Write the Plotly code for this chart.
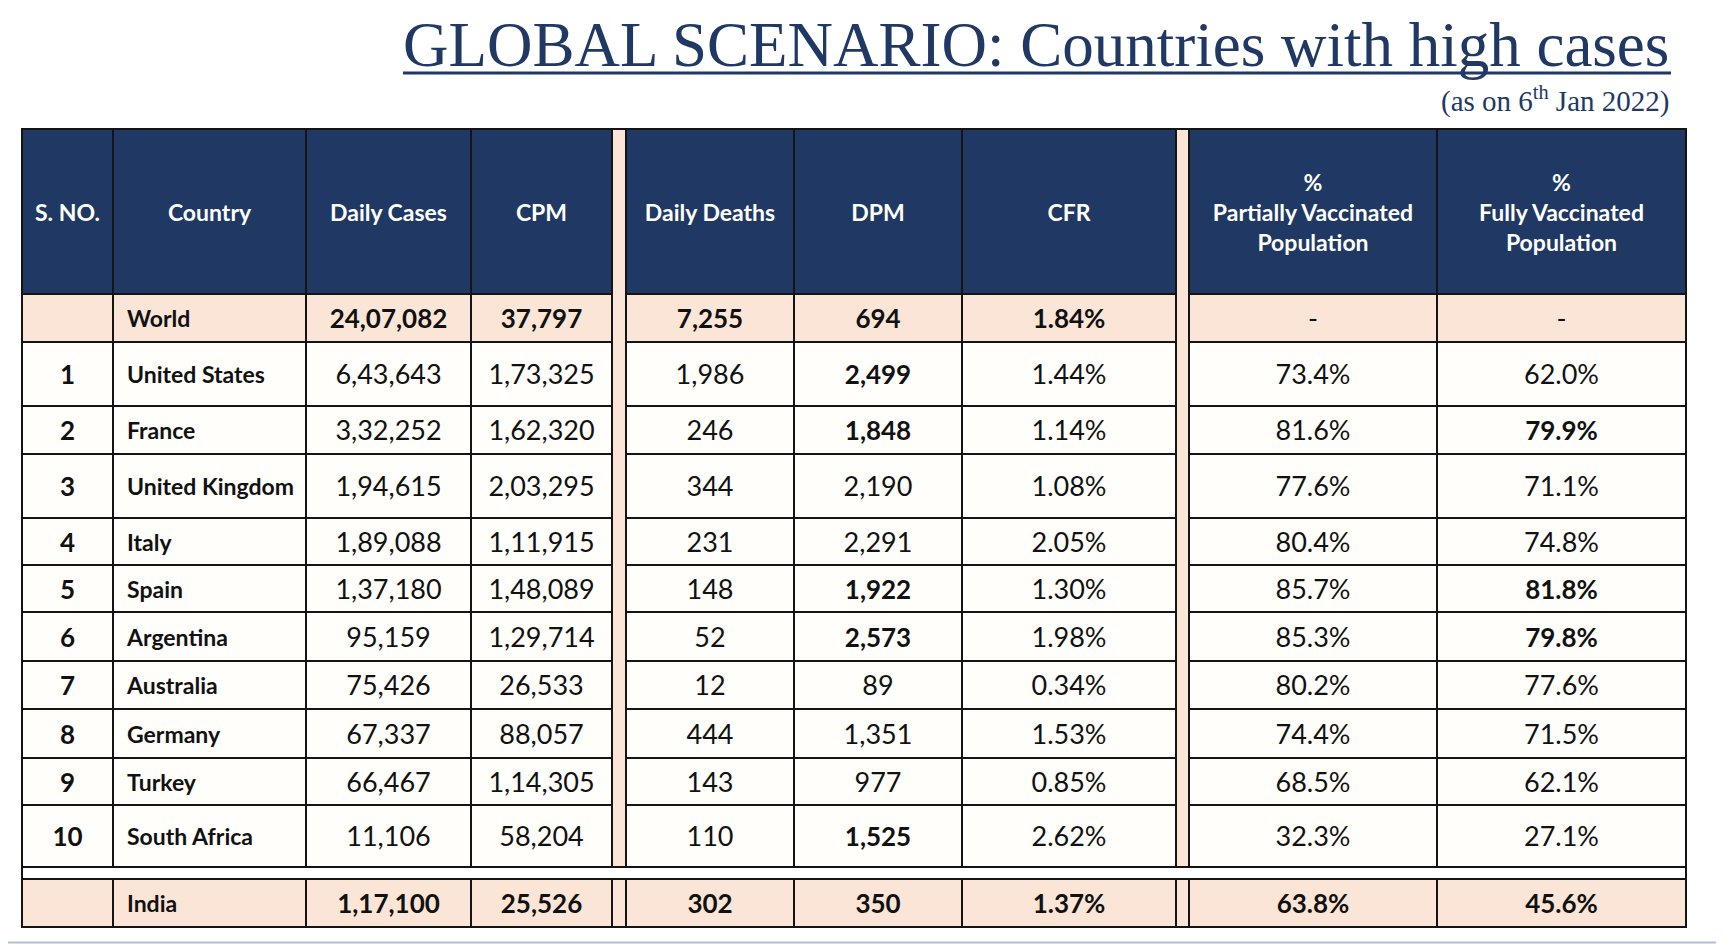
import plotly.graph_objects as go

# ---------------- data ----------------
countries = ["United States", "France", "United Kingdom", "Italy", "Spain",
             "Argentina", "Australia", "Germany", "Turkey", "South Africa"]
serial_no = [1, 2, 3, 4, 5, 6, 7, 8, 9, 10]
daily_cases = [643643, 332252, 194615, 189088, 137180, 95159, 75426, 67337, 66467, 11106]
cpm = [173325, 162320, 203295, 111915, 148089, 129714, 26533, 88057, 114305, 58204]
daily_deaths = [1986, 246, 344, 231, 148, 52, 12, 444, 143, 110]
dpm = [2499, 1848, 2190, 2291, 1922, 2573, 89, 1351, 977, 1525]
cfr = [1.44, 1.14, 1.08, 2.05, 1.30, 1.98, 0.34, 1.53, 0.85, 2.62]
partially_vacc = [73.4, 81.6, 77.6, 80.4, 85.7, 85.3, 80.2, 74.4, 68.5, 32.3]
fully_vacc = [62.0, 79.9, 71.1, 74.8, 81.8, 79.8, 77.6, 71.5, 62.1, 27.1]

world = {"name": "World", "cases": 2407082, "cpm": 37797, "deaths": 7255,
         "dpm": 694, "cfr": 1.84, "partial": None, "full": None}
india = {"name": "India", "cases": 117100, "cpm": 25526, "deaths": 302,
         "dpm": 350, "cfr": 1.37, "partial": 63.8, "full": 45.6}

headers = ["S. NO.", "Country", "Daily Cases", "CPM", "Daily Deaths", "DPM", "CFR",
           "%<br>Partially Vaccinated<br>Population", "%<br>Fully Vaccinated<br>Population"]

bold_dpm = {"United States", "France", "Spain", "Argentina", "South Africa"}
bold_full = {"France", "Spain", "Argentina"}

title_text = "GLOBAL SCENARIO: Countries with high cases"
subtitle_text = "(as on 6<sup>th</sup> Jan 2022)"

# ---------------- layout geometry (screen pixels) ----------------
W, H = 1724, 944
PAGE_OFF = 8  # browser body margin
COLS = [(22, 113), (113, 306), (306, 471), (471, 612), (626, 794),
        (794, 962), (962, 1176), (1189, 1437), (1437, 1686)]
SEPS = [(612, 626), (1176, 1189)]
HEADER = (129, 294)
WORLD = (294, 342)
ROW_EDGES = [342, 406, 454, 518, 565, 612, 661, 709, 758, 805, 867]
GAP = (867, 879)
INDIA = (879, 927)
TXT_DY = 3.5

NAVY = "#203864"
PEACH = "#fbe5d6"
CREAM = "#fffefb"
LINE = "#141414"
FONT = "Lato"
SIZE_REG = 27
SIZE_BOLD = 26


def indian(n):
    s = str(int(n))
    if len(s) <= 3:
        return s
    last3, rest = s[-3:], s[:-3]
    groups = []
    while len(rest) > 2:
        groups.insert(0, rest[-2:])
        rest = rest[:-2]
    if rest:
        groups.insert(0, rest)
    return ",".join(groups + [last3])


def pct(v, nd):
    return "-" if v is None else f"{v:.{nd}f}%"


def b(s):
    return f"<b>{s}</b>"


shapes = []


def rect(x0, x1, y0, y1, fill, lw=2):
    shapes.append(dict(type="rect", xref="x", yref="y", x0=x0, x1=x1, y0=y0, y1=y1,
                       fillcolor=fill, line=dict(color=LINE, width=lw), layer="below"))


for (x0, x1) in COLS:
    rect(x0, x1, HEADER[0], HEADER[1], NAVY)
for (x0, x1) in COLS:
    rect(x0, x1, WORLD[0], WORLD[1], PEACH)
for i in range(len(countries)):
    for (x0, x1) in COLS:
        rect(x0, x1, ROW_EDGES[i], ROW_EDGES[i + 1], CREAM)
rect(COLS[0][0], COLS[-1][1], GAP[0], GAP[1], "#ffffff")
for (x0, x1) in COLS:
    rect(x0, x1, INDIA[0], INDIA[1], PEACH)
for (x0, x1) in SEPS:
    rect(x0, x1, HEADER[0], GAP[0], PEACH)
    rect(x0, x1, INDIA[0], INDIA[1], PEACH)
shapes.append(dict(type="line", xref="x", yref="y", x0=COLS[0][0], x1=COLS[-1][1],
                   y0=HEADER[0], y1=HEADER[0], line=dict(color=LINE, width=2)))
# title underline
shapes.append(dict(type="line", xref="x", yref="y", x0=403, x1=1671, y0=73, y1=73,
                   line=dict(color=NAVY, width=3)))
# slide bottom edge
shapes.append(dict(type="line", xref="x", yref="y", x0=0, x1=W, y0=942.5, y1=942.5,
                   line=dict(color="#b3bfd9", width=2)))

# ---------------- texts ----------------
col_cx = [(a + c) / 2 for a, c in COLS]
country_x = COLS[1][0] + 14

row_cy = [(ROW_EDGES[i] + ROW_EDGES[i + 1]) / 2 + TXT_DY for i in range(len(countries))]
world_cy = sum(WORLD) / 2 + TXT_DY
india_cy = sum(INDIA) / 2 + TXT_DY

fig = go.Figure()

fig.add_trace(go.Scatter(
    x=col_cx, y=[sum(HEADER) / 2 + TXT_DY] * len(headers), mode="text",
    text=[b(h) for h in headers], textposition="middle center",
    textfont=dict(family=FONT, size=23, color="white"), hoverinfo="skip"))

centered_x = [col_cx[0]] + col_cx[2:]
cx, cy, ct, cs = [], [], [], []


def add_row(y, cells):
    for x, t in zip(centered_x, cells):
        if t == "":
            continue
        cx.append(x); cy.append(y); ct.append(t)
        cs.append(SIZE_BOLD if t.startswith("<b>") else SIZE_REG)


add_row(world_cy, ["", b(indian(world["cases"])), b(indian(world["cpm"])),
                   b(indian(world["deaths"])), b(indian(world["dpm"])),
                   b(pct(world["cfr"], 2)), pct(world["partial"], 1), pct(world["full"], 1)])
for i, c in enumerate(countries):
    d = indian(dpm[i])
    f = pct(fully_vacc[i], 1)
    add_row(row_cy[i], [b(serial_no[i]), indian(daily_cases[i]), indian(cpm[i]),
                        indian(daily_deaths[i]), b(d) if c in bold_dpm else d,
                        pct(cfr[i], 2), pct(partially_vacc[i], 1),
                        b(f) if c in bold_full else f])
add_row(india_cy, ["", b(indian(india["cases"])), b(indian(india["cpm"])),
                   b(indian(india["deaths"])), b(indian(india["dpm"])),
                   b(pct(india["cfr"], 2)), b(pct(india["partial"], 1)),
                   b(pct(india["full"], 1))])

fig.add_trace(go.Scatter(
    x=cx, y=cy, mode="text", text=ct, textposition="middle center",
    textfont=dict(family=FONT, size=cs, color="#111111"), hoverinfo="skip"))

fig.add_trace(go.Scatter(
    x=[country_x] * (len(countries) + 2),
    y=[world_cy] + row_cy + [india_cy], mode="text",
    text=[b(world["name"])] + [b(c) for c in countries] + [b(india["name"])],
    textposition="middle right",
    textfont=dict(family=FONT, size=23, color="#111111"), hoverinfo="skip"))

fig.add_annotation(x=1671, y=68, xref="x", yref="y", text=title_text, showarrow=False,
                   xanchor="right", yanchor="bottom", yshift=-14,
                   font=dict(family="Liberation Serif", size=63, color=NAVY))
fig.add_annotation(x=1671, y=99, xref="x", yref="y", text=subtitle_text, showarrow=False,
                   xanchor="right", yanchor="middle",
                   font=dict(family="Liberation Serif", size=29, color=NAVY))

fig.update_layout(
    width=W, height=H, margin=dict(l=0, r=0, t=0, b=0),
    paper_bgcolor="white", plot_bgcolor="white", showlegend=False,
    shapes=shapes, hovermode=False,
    xaxis=dict(range=[PAGE_OFF, W + PAGE_OFF], visible=False, fixedrange=True),
    yaxis=dict(range=[H + PAGE_OFF, PAGE_OFF], visible=False, fixedrange=True),
)

fig.write_html("out.html")
